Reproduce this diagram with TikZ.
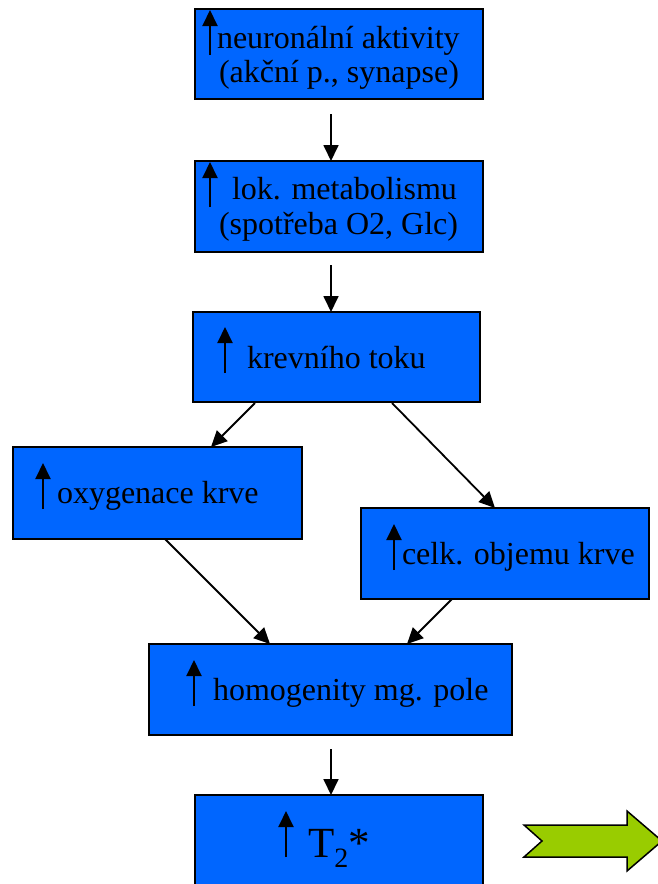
\documentclass[tikz,border=0pt]{standalone}
\usepackage{fontspec}
\setmainfont{Liberation Serif}
\usetikzlibrary{arrows.meta,calc}
\definecolor{boxblue}{HTML}{0066FF}
\definecolor{arrgreen}{HTML}{99CC00}
\begin{document}
\begin{tikzpicture}[x=1pt,y=-1pt,
  box/.style={draw=black, line width=2pt, fill=boxblue, rectangle, inner sep=0pt, outer sep=0pt},
  lbl/.style={anchor=base west, inner sep=0pt, outer sep=0pt, font=\fontsize{32}{34}\selectfont, text=black},
  uparrow/.style={line width=2pt, -{Triangle[length=16pt,width=15pt]}},
  conn/.style={line width=1.8pt, -{Triangle[length=16pt,width=15pt]}}]
\useasboundingbox (0,0) rectangle (657,884);
% boxes
\node[box, minimum width=288pt, minimum height=90pt] (b1) at (339,54) {};
\node[box, minimum width=288pt, minimum height=91pt] (b2) at (339,206.5) {};
\node[box, minimum width=287pt, minimum height=90pt] (b3) at (336.5,357) {};
\node[box, minimum width=289pt, minimum height=92pt] (b4) at (157.5,493) {};
\node[box, minimum width=288pt, minimum height=91pt] (b5) at (505,553.5) {};
\node[box, minimum width=363pt, minimum height=91pt] (b6) at (330.5,689.5) {};
\node[box, minimum width=288pt, minimum height=94pt] (b7) at (339,842) {};
% texts
\node[lbl] (t1a) at (217,48) {neuronální aktivity};
\node[lbl] (t1b) at (219,82) {(akční p., synapse)};
\node[lbl] (t2a) at (232,199) {lok. metabolismu};
\node[lbl] (t2b) at (219,234) {(spotřeba O2, Glc)};
\node[lbl] (t3) at (247,368) {krevního toku};
\node[lbl] (t4) at (57,503) {oxygenace krve};
\node[lbl] (t5) at (402,564) {celk. objemu krve};
\node[lbl] (t6) at (213,700) {homogenity mg. pole};
\node[lbl, font=\fontsize{43}{45}\selectfont] (t7) at (308,857) {T\raisebox{-10pt}{\fontsize{28}{30}\selectfont 2}*};
% up arrows inside boxes
\draw[uparrow] ($(b1.north west)+(15,46)$) -- ($(b1.north west)+(15,1)$);
\draw[uparrow] ($(b2.north west)+(15,46)$) -- ($(b2.north west)+(15,1)$);
\draw[uparrow] ($(b3.north west)+(32,61)$) -- ($(b3.north west)+(32,15)$);
\draw[uparrow] ($(b4.north west)+(30,62)$) -- ($(b4.north west)+(30,16)$);
\draw[uparrow] ($(b5.north west)+(33,62)$) -- ($(b5.north west)+(33,16)$);
\draw[uparrow] ($(b6.north west)+(45,62)$) -- ($(b6.north west)+(45,16)$);
\draw[uparrow] ($(b7.north west)+(91,62)$) -- ($(b7.north west)+(91,16)$);
% connectors
\draw[conn] ($(b1.south west)+(136,15)$) -- ($(b2.north west)+(136,0)$);
\draw[conn] ($(b2.south west)+(136,13)$) -- ($(b3.north west)+(138,0)$);
\draw[conn] ($(b3.south west)+(62,1)$) -- ($(b4.north west)+(198,0)$);
\draw[conn] ($(b3.south west)+(199,1)$) -- ($(b5.north west)+(134,0)$);
\draw[conn] ($(b4.south west)+(152,0)$) -- ($(b6.north west)+(121,0)$);
\draw[conn] ($(b5.south west)+(91,0)$) -- ($(b6.north west)+(258,0)$);
\draw[conn] ($(b6.south west)+(182,14)$) -- ($(b7.north west)+(136,0)$);
% green arrow
\draw[line width=1.5pt, fill=arrgreen, line join=miter]
  (524,825) -- (627,825) -- (627,811) -- (662,841) -- (627,871) -- (627,857) -- (524,857) -- (542,841) -- cycle;
\end{tikzpicture}
\end{document}
